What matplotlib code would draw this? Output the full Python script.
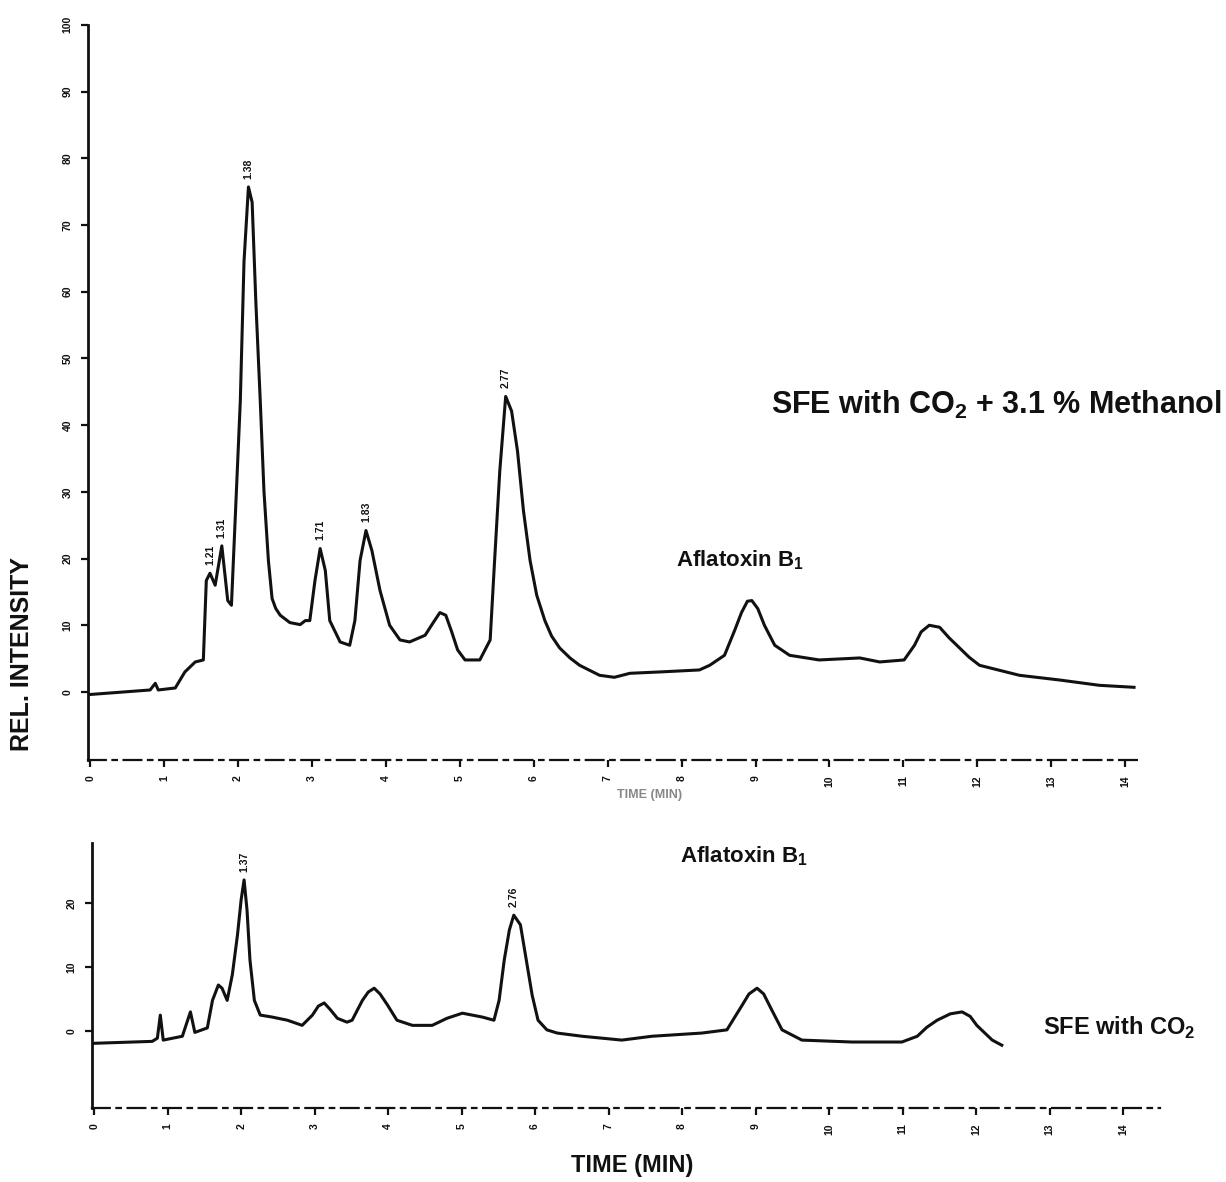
import matplotlib
matplotlib.use('Agg')
import matplotlib.pyplot as plt

plt.rcParams['font.family'] = ['Liberation Sans', 'DejaVu Sans']

# --- top trace: SFE with CO2 + 3.1 % methanol ---
t_top = [-0.03, 0.81, 0.88, 0.92, 1.15, 1.28, 1.42, 1.53, 1.57, 1.62, 1.69, 1.78,
         1.86, 1.91, 1.96, 2.03, 2.08, 2.14, 2.19, 2.24, 2.30, 2.35, 2.41, 2.46,
         2.51, 2.57, 2.70, 2.84, 2.91, 2.97, 3.04, 3.11, 3.18, 3.24, 3.38, 3.51,
         3.58, 3.65, 3.73, 3.81, 3.92, 4.05, 4.19, 4.32, 4.53, 4.64, 4.73, 4.81,
         4.89, 4.97, 5.07, 5.27, 5.41, 5.47, 5.54, 5.62, 5.70, 5.78, 5.86, 5.95,
         6.04, 6.15, 6.24, 6.35, 6.49, 6.62, 6.89, 7.09, 7.30, 7.70, 8.24, 8.38,
         8.58, 8.72, 8.81, 8.89, 8.95, 9.03, 9.12, 9.26, 9.46, 9.86, 10.41, 10.68,
         11.01, 11.15, 11.24, 11.35, 11.49, 11.62, 11.76, 11.89, 12.03, 12.57,
         13.11, 13.65, 14.12]
i_top = [-0.4, 0.3, 1.3, 0.3, 0.6, 3.0, 4.5, 4.8, 16.7, 17.8, 16.0, 21.9,
         13.7, 13.0, 25.7, 43.6, 64.5, 75.7, 73.4, 58.5, 43.6, 30.1, 19.7, 14.0,
         12.5, 11.5, 10.4, 10.1, 10.7, 10.7, 16.7, 21.5, 18.2, 10.7, 7.5, 7.0,
         10.7, 19.7, 24.2, 21.2, 15.2, 10.0, 7.8, 7.5, 8.5, 10.4, 11.9, 11.5,
         9.0, 6.3, 4.8, 4.8, 7.8, 19.7, 33.1, 44.3, 42.1, 36.1, 27.2, 19.7,
         14.5, 10.7, 8.4, 6.6, 5.1, 4.0, 2.5, 2.2, 2.8, 3.0, 3.3, 4.0,
         5.5, 9.3, 11.9, 13.6, 13.7, 12.5, 10.0, 7.0, 5.5, 4.8, 5.1, 4.5,
         4.8, 7.0, 9.0, 10.0, 9.7, 8.1, 6.6, 5.2, 4.0, 2.5,
         1.8, 1.0, 0.7]
peaks_top_t = [1.62, 1.78, 2.14, 3.11, 3.73, 5.62]
peaks_top_lbl = ['1.21', '1.31', '1.38', '1.71', '1.83', '2.77']

# --- bottom trace: SFE with CO2 ---
t_bot = [0.0, 0.79, 0.86, 0.90, 0.94, 1.20, 1.31, 1.37, 1.54, 1.61, 1.69, 1.74,
         1.81, 1.88, 1.95, 2.00, 2.04, 2.08, 2.12, 2.18, 2.26, 2.42, 2.63, 2.83,
         2.97, 3.05, 3.13, 3.21, 3.31, 3.44, 3.51, 3.65, 3.73, 3.81, 3.89, 3.99,
         4.12, 4.33, 4.60, 4.80, 5.01, 5.28, 5.44, 5.51, 5.58, 5.65, 5.71, 5.80,
         5.88, 5.96, 6.04, 6.16, 6.30, 6.64, 7.18, 7.59, 8.27, 8.61, 8.82, 8.91,
         9.02, 9.11, 9.22, 9.36, 9.63, 10.31, 10.99, 11.20, 11.33, 11.47, 11.65,
         11.81, 11.92, 12.01, 12.22, 12.35]
i_bot = [-1.9, -1.6, -1.1, 2.5, -1.4, -0.8, 3.0, -0.2, 0.5, 4.8, 7.2, 6.7,
         4.8, 8.8, 15.0, 20.5, 23.6, 18.9, 11.1, 4.8, 2.5, 2.2, 1.7, 0.9,
         2.5, 3.9, 4.4, 3.4, 2.0, 1.4, 1.7, 4.8, 6.1, 6.7, 5.8, 4.1,
         1.7, 0.9, 0.9, 2.0, 2.8, 2.2, 1.7, 4.8, 11.1, 15.8, 18.1, 16.6,
         11.1, 5.6, 1.7, 0.2, -0.3, -0.8, -1.4, -0.8, -0.3, 0.2, 4.1, 5.8,
         6.7, 5.8, 3.3, 0.2, -1.4, -1.7, -1.7, -0.8, 0.6, 1.7, 2.7,
         3.0, 2.3, 0.9, -1.4, -2.2]
peaks_bot_t = [2.04, 5.71]
peaks_bot_lbl = ['1.37', '2.76']

x_ticks = list(range(15))
y_ticks_top = list(range(0, 101, 10))
y_ticks_bot = [0, 10, 20]

fig = plt.figure(figsize=(12.26, 11.82), dpi=100)
ax1 = fig.add_axes([0.0718, 0.357, 0.858, 0.622])
ax2 = fig.add_axes([0.075, 0.0626, 0.871, 0.2244])

ink = '#111111'


def style(ax, xmax, ymin, ymax, yt):
    ax.set_xlim(-0.03, xmax)
    ax.set_ylim(ymin, ymax)
    for s in ['top', 'right']:
        ax.spines[s].set_visible(False)
    ax.spines['left'].set_linewidth(2.0)
    ax.spines['left'].set_color(ink)
    ax.spines['bottom'].set_linewidth(1.6)
    ax.spines['bottom'].set_linestyle((0, (8, 3, 2, 3)))
    ax.spines['bottom'].set_color(ink)
    ax.set_xticks(x_ticks)
    ax.set_xticklabels([str(v) for v in x_ticks], rotation=90,
                       fontsize=7.5, fontweight='bold')
    ax.set_yticks(yt)
    ax.set_yticklabels([str(v) for v in yt], rotation=90, va='center',
                       fontsize=7.5, fontweight='bold')
    ax.tick_params(axis='both', direction='out', length=5, width=1.6, colors=ink,
                   pad=6)


style(ax1, 14.2, -10.2, 100, y_ticks_top)
style(ax2, 14.5, -12, 29.4, y_ticks_bot)

ax1.plot(t_top, i_top, color=ink, lw=2.2, solid_joinstyle='round')
ax2.plot(t_bot, i_bot, color=ink, lw=2.2, solid_joinstyle='round')

for ax, pt, lb, tt, ii in [(ax1, peaks_top_t, peaks_top_lbl, t_top, i_top),
                           (ax2, peaks_bot_t, peaks_bot_lbl, t_bot, i_bot)]:
    for p, l in zip(pt, lb):
        h = ii[tt.index(p)]
        ax.annotate(l, xy=(p, h), xytext=(0, 6), textcoords='offset points',
                    rotation=90, ha='center', va='bottom', fontsize=7.5,
                    fontweight='bold', color=ink)

fig.text(0.997, 0.657, r'SFE with CO$_\mathregular{2}$ + 3.1 % Methanol',
         fontsize=22, fontweight='bold', ha='right', va='center', color=ink)
fig.text(0.551, 0.526, r'Aflatoxin B$_\mathregular{1}$', fontsize=16,
         fontweight='bold', ha='left', va='center', color=ink)
fig.text(0.555, 0.276, r'Aflatoxin B$_\mathregular{1}$', fontsize=16,
         fontweight='bold', ha='left', va='center', color=ink)
fig.text(0.975, 0.13, r'SFE with CO$_\mathregular{2}$', fontsize=17,
         fontweight='bold', ha='right', va='center', color=ink)
fig.text(0.018, 0.447, 'REL. INTENSITY', fontsize=18, fontweight='bold',
         rotation=90, ha='center', va='center', color=ink)
fig.text(0.516, 0.014, 'TIME (MIN)', fontsize=17, fontweight='bold',
         ha='center', va='center', color=ink)
fig.text(0.53, 0.327, 'TIME (MIN)', fontsize=9, fontweight='bold',
         ha='center', va='center', color='#888888')

fig.savefig('out.png', dpi=100, facecolor='white')
